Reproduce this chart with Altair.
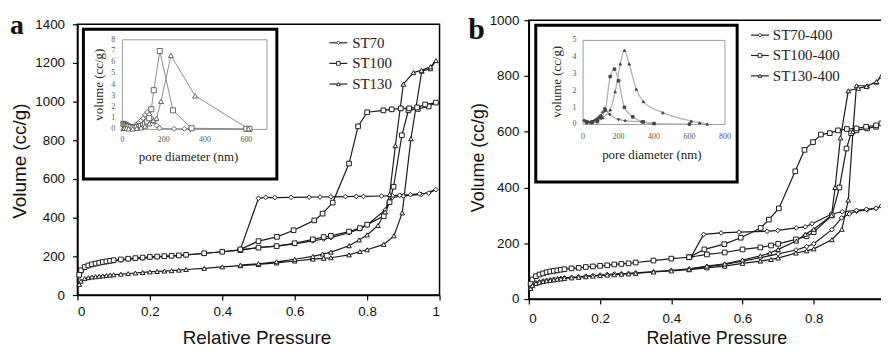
import altair as alt
import pandas as pd

# ---------------- shared low-pressure grid (relative pressure) ----------------
LOW_P = [0.005, 0.01, 0.02, 0.03, 0.04, 0.05, 0.06, 0.07, 0.08, 0.09, 0.10,
         0.12, 0.14, 0.16, 0.18, 0.20, 0.22, 0.24, 0.26, 0.28, 0.30]

# ---------------- panel a : isotherms ----------------
A_NAMES = ["ST70", "ST100", "ST130"]

A_ST70_ADS_P = LOW_P + [0.35, 0.40, 0.45, 0.50, 0.55, 0.60, 0.65, 0.68, 0.70, 0.75, 0.78, 0.80,
                        0.85, 0.86, 0.87, 0.90, 0.95, 0.99]
A_ST70_ADS_V = [95, 120, 140, 150, 156, 160, 164, 168, 171, 174, 177, 181, 185, 188, 191, 194, 197,
                199, 201, 204, 207] + [215, 224, 234, 246, 253, 265, 280, 290, 297, 322, 342, 362,
                                       440, 480, 505, 512, 520, 545]
A_ST70_DES_P = [0.97, 0.945, 0.92, 0.89, 0.87, 0.84, 0.79, 0.77, 0.74, 0.70, 0.67, 0.64, 0.59,
                0.545, 0.52, 0.50, 0.45]
A_ST70_DES_V = [527, 523, 519, 516, 514, 512, 510, 510, 509, 508, 507, 506, 505, 504, 505, 500, 236]

A_ST100_ADS_P = LOW_P + [0.35, 0.40, 0.45, 0.50, 0.55, 0.60, 0.65, 0.68, 0.70, 0.75, 0.78, 0.80,
                         0.846, 0.862, 0.873, 0.896, 0.914, 0.94, 0.97, 0.99]
A_ST100_ADS_V = [105, 128, 145, 153, 159, 163, 167, 171, 174, 177, 180, 184, 188, 191, 194, 197, 199,
                 201, 203, 205, 208] + [216, 224, 232, 245, 253, 268, 288, 300, 306, 328, 346, 364,
                                        408, 480, 560, 826, 955, 962, 975, 995]
A_ST100_DES_P = [0.96, 0.938, 0.916, 0.893, 0.868, 0.845, 0.80, 0.775, 0.75, 0.705, 0.677, 0.654,
                 0.597, 0.551, 0.50, 0.45]
A_ST100_DES_V = [985, 970, 965, 965, 960, 955, 945, 872, 680, 478, 421, 386, 335, 301, 279, 236]

A_ST130_ADS_P = LOW_P + [0.35, 0.40, 0.45, 0.50, 0.55, 0.60, 0.65, 0.68, 0.70, 0.75, 0.78, 0.80,
                         0.846, 0.874, 0.897, 0.921, 0.951, 0.975, 0.99]
A_ST130_ADS_V = [55, 72, 85, 90, 93, 95, 97, 99, 101, 103, 105, 108, 111, 114, 117, 120, 122, 124,
                 126, 129, 132] + [138, 146, 152, 158, 166, 176, 186, 190, 193, 208, 225, 234,
                                   262, 306, 425, 808, 1157, 1170, 1212]
A_ST130_DES_P = [0.975, 0.95, 0.928, 0.90, 0.878, 0.862, 0.85, 0.83, 0.80, 0.778, 0.75, 0.70,
                 0.677, 0.65, 0.60, 0.55, 0.50, 0.45]
A_ST130_DES_V = [1180, 1162, 1150, 1090, 772, 520, 430, 360, 311, 285, 255, 222, 212, 200, 185,
                 172, 162, 155]

# panel a inset : pore size distribution
A_ST70_D = [5, 10, 15, 20, 25, 30, 40, 50, 60, 70, 80, 90, 100, 110, 120, 130, 140, 150, 165, 180,
            250, 300, 330, 600]
A_ST70_Q = [0.3, 0.4, 0.35, 0.3, 0.25, 0.2, 0.15, 0.2, 0.3, 0.45, 0.6, 0.8, 1.0, 1.3, 1.55, 1.3,
            1.0, 0.7, 0.35, 0.1, 0.05, 0.05, 0.05, 0.02]
A_ST100_D = [5, 10, 15, 20, 25, 30, 40, 50, 60, 70, 80, 90, 100, 110, 120, 130, 140, 152, 181, 245,
             335, 600, 615]
A_ST100_Q = [0.5, 0.45, 0.4, 0.35, 0.3, 0.25, 0.2, 0.15, 0.15, 0.2, 0.25, 0.3, 0.4, 0.5, 0.7, 1.0,
             1.8, 3.5, 7.0, 1.7, 0.1, 0.05, 0.05]
A_ST130_D = [5, 10, 20, 30, 50, 70, 90, 110, 130, 150, 165, 187, 235, 352, 610]
A_ST130_Q = [0.1, 0.1, 0.1, 0.05, 0.05, 0.1, 0.15, 0.3, 0.5, 0.8, 1.0, 2.5, 6.6, 3.0, 0.05]

# ---------------- panel b : isotherms ----------------
B_NAMES = ["ST70-400", "ST100-400", "ST130-400"]

B_ST70_ADS_P = LOW_P + [0.35, 0.40, 0.45, 0.50, 0.55, 0.60, 0.65, 0.70, 0.75, 0.78, 0.80, 0.851,
                        0.878, 0.90, 0.92, 0.95, 0.975, 0.99]
B_ST70_ADS_V = [40, 50, 58, 62, 65, 67, 69, 71, 73, 74, 76, 78, 80, 82, 84, 86, 88, 90, 91, 92,
                94] + [98, 103, 108, 116, 124, 136, 148, 162, 176, 188, 198, 249, 291, 305, 315,
                       320, 325, 333]
B_ST70_DES_P = [0.975, 0.948, 0.92, 0.88, 0.851, 0.795, 0.776, 0.751, 0.699, 0.669, 0.59, 0.54,
                0.491, 0.455]
B_ST70_DES_V = [326, 322, 318, 313, 305, 270, 259, 255, 246, 243, 240, 237, 232, 150]

B_ST100_ADS_P = LOW_P + [0.35, 0.40, 0.45, 0.50, 0.55, 0.60, 0.65, 0.68, 0.70, 0.75, 0.78, 0.80,
                         0.851, 0.872, 0.892, 0.905, 0.92, 0.95, 0.975, 0.99]
B_ST100_ADS_V = [55, 70, 82, 88, 92, 96, 99, 101, 103, 105, 107, 110, 112, 115, 117, 119, 121,
                 124, 126, 128, 131] + [138, 145, 150, 160, 167, 178, 185, 192, 198, 214, 225,
                                        240, 300, 400, 540, 595, 605, 612, 618, 630]
B_ST100_DES_P = [0.975, 0.947, 0.92, 0.893, 0.868, 0.845, 0.82, 0.798, 0.774, 0.748, 0.702,
                 0.674, 0.651, 0.595, 0.549, 0.493, 0.45]
B_ST100_DES_V = [623, 618, 612, 610, 605, 595, 590, 563, 535, 458, 325, 285, 255, 220, 197, 178,
                 150]

B_ST130_ADS_P = LOW_P + [0.35, 0.40, 0.45, 0.50, 0.55, 0.60, 0.65, 0.68, 0.70, 0.75, 0.78, 0.80,
                         0.851, 0.879, 0.897, 0.91, 0.92, 0.95, 0.976, 0.99]
B_ST130_ADS_V = [38, 48, 56, 60, 63, 65, 67, 69, 71, 72, 74, 76, 78, 80, 82, 84, 86, 87, 89, 90,
                 92] + [97, 101, 105, 112, 118, 128, 136, 142, 147, 165, 173, 180, 213, 250, 355,
                        600, 765, 765, 778, 800]
B_ST130_DES_P = [0.976, 0.948, 0.925, 0.897, 0.875, 0.86, 0.85, 0.80, 0.776, 0.751, 0.70, 0.677,
                 0.65, 0.60, 0.55, 0.50, 0.45]
B_ST130_DES_V = [780, 762, 756, 747, 578, 400, 300, 250, 232, 208, 178, 165, 155, 140, 126, 118,
                 107]

# panel b inset : pore size distribution
B_ST70_D = [5, 10, 15, 20, 30, 40, 50, 60, 70, 80, 90, 100, 110, 121, 150, 200, 237, 330, 400]
B_ST70_Q = [0.25, 0.2, 0.2, 0.15, 0.15, 0.12, 0.15, 0.2, 0.28, 0.35, 0.45, 0.55, 0.72, 0.96, 0.6,
            0.3, 0.22, 0.15, 0.05]
B_ST100_D = [20, 50, 80, 100, 125, 153, 177, 200, 233, 280, 340, 400, 600]
B_ST100_Q = [0.15, 0.15, 0.25, 0.4, 0.85, 2.85, 3.29, 2.6, 1.02, 0.45, 0.15, 0.05, 0.02]
B_ST130_D = [20, 50, 80, 110, 153, 181, 210, 233, 260, 300, 340, 450, 610, 657, 700]
B_ST130_Q = [0.1, 0.1, 0.15, 0.4, 0.87, 1.95, 3.6, 4.41, 3.6, 2.1, 1.36, 0.7, 0.2, 0.1, 0.02]

SHAPES = ["diamond", "square", "triangle-up"]
VIEW_W, VIEW_H = 880, 341


def iso_df(names, branches):
    rows = []
    for name, (ap, av, dp, dv) in zip(names, branches):
        for k, (p, v) in enumerate(zip(ap + dp, av + dv)):
            rows.append({"series": name, "P": p, "V": v, "k": k})
    return pd.DataFrame(rows)


def dist_df(names, curves):
    rows = []
    for name, (d, q) in zip(names, curves):
        for k, (x, y) in enumerate(zip(d, q)):
            rows.append({"series": name, "D": x, "Q": y, "k": k})
    return pd.DataFrame(rows)


def panel_layers(c):
    names = c["names"]
    shape_scale = alt.Scale(domain=names, range=SHAPES)
    x0, y0, x1, y1 = c["plot"]
    common = dict(domainColor="black", domainWidth=1.5, tickColor="black", tickWidth=1.2,
                  tickSize=5, grid=False, labelFont="Liberation Sans", labelFontSize=13.5,
                  labelColor="#111", titleFont="Liberation Sans", titleFontWeight="normal",
                  titleColor="#111", titleFontSize=c["tfs"], titleBaseline="middle")
    xaxis = alt.Axis(orient="bottom", offset=-(VIEW_H - y1), values=c["xvals"],
                     format="~g", title="Relative Pressure", labelPadding=c["xlabpad"],
                     titleX=c["xtitle"][0], titleY=c["xtitle"][1], **common)
    yaxis = alt.Axis(orient="left", offset=-x0, values=c["yvals"], format="d",
                     title="Volume (cc/g)", labelPadding=c["ylabpad"],
                     titleX=c["ytitle"][0], titleY=c["ytitle"][1], titleAngle=270, **common)
    xs = alt.Scale(domain=[0, 1], range=[x0, x1], nice=False)
    ys = alt.Scale(domain=[0, c["ymax"]], range=[y1, y0], nice=False)
    iso = c["iso"]
    one = pd.DataFrame({"z": [0]})

    frame_main = alt.Chart(one).mark_rect(fill="transparent", stroke="black", strokeWidth=1.5).encode(
        x=alt.value(x0), x2=alt.value(x1), y=alt.value(y0), y2=alt.value(y1))
    lines = alt.Chart(iso).mark_line(color="#1a1a1a", strokeWidth=1.2).encode(
        x=alt.X("P:Q", scale=xs, axis=xaxis), y=alt.Y("V:Q", scale=ys, axis=yaxis),
        detail="series:N", order="k:Q")
    pts = alt.Chart(iso).mark_point(filled=True, fill="white", stroke="#1a1a1a", strokeWidth=1,
                                    size=22, opacity=1).encode(
        x=alt.X("P:Q", scale=xs, axis=None), y=alt.Y("V:Q", scale=ys, axis=None),
        shape=alt.Shape("series:N", scale=shape_scale, legend=None))

    ins = c["inset"]
    lim = pd.DataFrame({"a0": [0], "a1": [ins["xmax"]], "b0": [0], "b1": [ins["ymax"]]})
    ixs = alt.Scale(domain=[0, ins["xmax"]], range=ins["xrange"], nice=False)
    iys = alt.Scale(domain=[0, ins["ymax"]], range=ins["yrange"], nice=False)
    bx = ins["box"]
    box = alt.Chart(one).mark_rect(fill="white", stroke="black", strokeWidth=3).encode(
        x=alt.value(bx[0]), x2=alt.value(bx[2]), y=alt.value(bx[1]), y2=alt.value(bx[3]))
    frame = alt.Chart(lim).mark_rect(fill="white", stroke="#9a9a9a", strokeWidth=1).encode(
        x=alt.X("a0:Q", scale=ixs, axis=None), x2="a1:Q",
        y=alt.Y("b0:Q", scale=iys, axis=None), y2="b1:Q")
    dist = c["dist"]
    dl = alt.Chart(dist).mark_line(color=ins["lc"], strokeWidth=ins["lw"],
                                   interpolate=ins["interp"]).encode(
        x=alt.X("D:Q", scale=ixs, axis=None), y=alt.Y("Q:Q", scale=iys, axis=None),
        detail="series:N", order="k:Q")
    dp = alt.Chart(dist).mark_point(filled=True, fill=ins["mfill"], stroke=ins["mstroke"],
                                    strokeWidth=0.9, size=ins["msize"], opacity=1).encode(
        x=alt.X("D:Q", scale=ixs, axis=None), y=alt.Y("Q:Q", scale=iys, axis=None),
        shape=alt.Shape("series:N", scale=shape_scale, legend=None))
    tick_style = dict(font="Liberation Serif", fontSize=8, color="#555", baseline="middle")
    xt = alt.Chart(pd.DataFrame({"t": ins["xticks"]})).mark_text(**tick_style).encode(
        x=alt.X("t:Q", scale=ixs, axis=None), y=alt.value(ins["xlab_y"]), text="t:Q")
    yt = alt.Chart(pd.DataFrame({"t": ins["yticks"]})).mark_text(align="right", **tick_style).encode(
        x=alt.value(ins["ylab_x"]), y=alt.Y("t:Q", scale=iys, axis=None), text="t:Q")
    title_style = dict(font="Liberation Serif", fontSize=13, color="#222", baseline="middle")
    ixt = alt.Chart(one).mark_text(text="pore diameter (nm)", **title_style).encode(
        x=alt.value(ins["xt"][0]), y=alt.value(ins["xt"][1]))
    iyt = alt.Chart(one).mark_text(text="volume (cc/g)", angle=270, **title_style).encode(
        x=alt.value(ins["yt"][0]), y=alt.value(ins["yt"][1]))

    lg = c["legend"]
    leg = pd.DataFrame({"series": names, "row": [0, 1, 2]})
    lys = alt.Scale(domain=[0, 2], range=lg["rows"])
    seg = alt.Chart(leg).mark_rule(color="#222", strokeWidth=1.2).encode(
        x=alt.value(lg["seg"][0]), x2=alt.value(lg["seg"][1]),
        y=alt.Y("row:Q", scale=lys, axis=None))
    lpt = alt.Chart(leg).mark_point(filled=True, fill="white", stroke="#222", strokeWidth=0.9,
                                    size=14, opacity=1).encode(
        x=alt.value(lg["mark"]), y=alt.Y("row:Q", scale=lys, axis=None),
        shape=alt.Shape("series:N", scale=shape_scale, legend=None))
    ltx = alt.Chart(leg).mark_text(align="left", baseline="middle", font="Liberation Serif",
                                   fontSize=15, color="#222").encode(
        x=alt.value(lg["text"]), y=alt.Y("row:Q", scale=lys, axis=None), text="series:N")

    tag = alt.Chart(one).mark_text(text=c["tag"], font="Liberation Serif", fontSize=c["tag_fs"],
                                   fontWeight="bold", align="left", baseline="alphabetic",
                                   color="#111").encode(
        x=alt.value(c["tag_xy"][0]), y=alt.value(c["tag_xy"][1]))

    return [frame_main, lines, pts, box, frame, dl, dp, xt, yt, ixt, iyt, seg, lpt, ltx, tag]


iso_a = iso_df(A_NAMES, [(A_ST70_ADS_P, A_ST70_ADS_V, A_ST70_DES_P, A_ST70_DES_V),
                         (A_ST100_ADS_P, A_ST100_ADS_V, A_ST100_DES_P, A_ST100_DES_V),
                         (A_ST130_ADS_P, A_ST130_ADS_V, A_ST130_DES_P, A_ST130_DES_V)])
iso_b = iso_df(B_NAMES, [(B_ST70_ADS_P, B_ST70_ADS_V, B_ST70_DES_P, B_ST70_DES_V),
                         (B_ST100_ADS_P, B_ST100_ADS_V, B_ST100_DES_P, B_ST100_DES_V),
                         (B_ST130_ADS_P, B_ST130_ADS_V, B_ST130_DES_P, B_ST130_DES_V)])
dist_a = dist_df(A_NAMES, [(A_ST70_D, A_ST70_Q), (A_ST100_D, A_ST100_Q), (A_ST130_D, A_ST130_Q)])
dist_b = dist_df(B_NAMES, [(B_ST70_D, B_ST70_Q), (B_ST100_D, B_ST100_Q), (B_ST130_D, B_ST130_Q)])

# view coordinates = page coordinates - 8 (page margin); padding 0
layers_a = panel_layers(dict(
    names=A_NAMES, iso=iso_a, dist=dist_a, plot=[70, 15, 435, 288], ymax=1400,
    xvals=[0, 0.2, 0.4, 0.6, 0.8, 1.0],
    yvals=[0, 200, 400, 600, 800, 1000, 1200, 1400], tfs=19, xlabpad=5, ylabpad=8,
    xtitle=[250.5, 43], ytitle=[-58, 152.5],
    inset=dict(xmax=700, ymax=8, xrange=[115.3, 261.1], yrange=[121, 30.7], box=[76, 20, 271, 171],
               lc="#8c8c8c", lw=1, interp="linear", mfill="white", mstroke="#555", msize=26,
               xticks=[0, 200, 400, 600], yticks=[0, 1, 2, 3, 4, 5, 6, 7, 8], xlab_y=132,
               ylab_x=108, xt=[182, 149], yt=[92, 76]),
    legend=dict(rows=[33.7, 75.3], seg=[324, 342], mark=333, text=347),
    tag="a", tag_fs=28, tag_xy=[2, 25]))

layers_b = panel_layers(dict(
    names=B_NAMES, iso=iso_b, dist=dist_b, plot=[525, 11, 884, 292], ymax=1000,
    xvals=[0, 0.2, 0.4, 0.6, 0.8],
    yvals=[0, 200, 400, 600, 800, 1000], tfs=18, xlabpad=8, ylabpad=5,
    xtitle=[714, 40], ytitle=[-51, 149],
    inset=dict(xmax=800, ymax=5, xrange=[579.7, 722.7], yrange=[116, 31.3], box=[532, 16, 735, 174],
               lc="#b0b0b0", lw=1.3, interp="monotone", mfill="#444", mstroke="#444", msize=7,
               xticks=[0, 200, 400, 600, 800], yticks=[0, 1, 2, 3, 4, 5], xlab_y=129,
               ylab_x=573, xt=[649, 147], yt=[553.5, 73]),
    legend=dict(rows=[26, 67], seg=[749, 767], mark=758, text=771),
    tag="b", tag_fs=30, tag_xy=[464, 30]))

chart = alt.layer(*(layers_a + layers_b)).resolve_scale(
    x="independent", y="independent"
).properties(
    width=VIEW_W, height=VIEW_H, padding=0, background="white",
    autosize=alt.AutoSizeParams(type="none")
).configure_view(stroke="transparent")

chart.save("out.html", embed_options={"renderer": "svg", "actions": False})
